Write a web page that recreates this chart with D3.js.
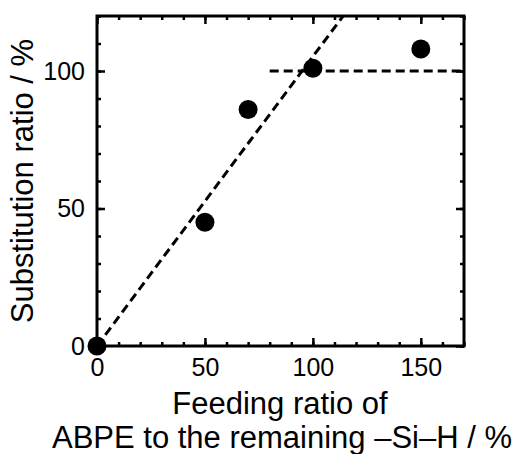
<!DOCTYPE html>
<html>
<head>
<meta charset="utf-8">
<script src="https://cdn.jsdelivr.net/npm/d3@7"></script>
<style>
  body { margin: 0; background: #fff; }
  svg { display: block; }
  .axis text { font-family: "Liberation Sans", Arial, sans-serif; font-size: 25px; fill: #000; }
  .axis line { stroke: #000; stroke-width: 2.5; }
  .axis path.domain { display: none; }
  .title { font-family: "Liberation Sans", Arial, sans-serif; font-size: 31px; fill: #000; }
</style>
</head>
<body>
<div id="chart"></div>
<script>
// measured points
const feedRatio = [0, 50, 70, 100, 150];
const substRatio = [0, 45, 86, 101, 108];

// guide lines (dashed)
const slopeX = [0, 114];
const slopeY = [0, 120];
const plateauX = [80, 170];
const plateauY = [100, 100];

// ticks
const xTicks = [0, 50, 100, 150];
const yTicks = [0, 50, 100];
const xMinor = d3.range(0, 171, 10);
const yMinor = d3.range(0, 121, 10);

const containerWidth = 518, containerHeight = 454;
const margin = {top: 16, right: 54, bottom: 108, left: 97};
const width = containerWidth - margin.left - margin.right;
const height = containerHeight - margin.top - margin.bottom;

const svg = d3.select('#chart').append('svg')
    .attr('width', containerWidth)
    .attr('height', containerHeight);

const chart = svg.append('g')
    .attr('transform', `translate(${margin.left},${margin.top})`);

const xScale = d3.scaleLinear().domain([0, 170]).range([0, width]);
const yScale = d3.scaleLinear().domain([0, 120]).range([height, 0]);

// minor ticks on all four sides (inward)
const minorTick = 4, majorTick = 8;
chart.append('g').attr('class', 'axis')
    .attr('transform', `translate(0,${height})`)
    .call(d3.axisBottom(xScale).tickValues(xMinor).tickFormat('').tickSize(-minorTick));
chart.append('g').attr('class', 'axis')
    .call(d3.axisTop(xScale).tickValues(xMinor).tickFormat('').tickSize(-minorTick));
chart.append('g').attr('class', 'axis')
    .call(d3.axisLeft(yScale).tickValues(yMinor).tickFormat('').tickSize(-minorTick));
chart.append('g').attr('class', 'axis')
    .attr('transform', `translate(${width},0)`)
    .call(d3.axisRight(yScale).tickValues(yMinor).tickFormat('').tickSize(-minorTick));

// major ticks with labels
chart.append('g').attr('class', 'axis')
    .attr('transform', `translate(0,${height})`)
    .call(d3.axisBottom(xScale).tickValues(xTicks).tickSize(-majorTick).tickPadding(12));
chart.append('g').attr('class', 'axis')
    .call(d3.axisLeft(yScale).tickValues(yTicks).tickSize(-majorTick).tickPadding(12));
chart.append('g').attr('class', 'axis')
    .call(d3.axisTop(xScale).tickValues(xTicks).tickFormat('').tickSize(-majorTick));
chart.append('g').attr('class', 'axis')
    .attr('transform', `translate(${width},0)`)
    .call(d3.axisRight(yScale).tickValues(yTicks).tickFormat('').tickSize(-majorTick));

// frame
chart.append('rect')
    .attr('width', width)
    .attr('height', height)
    .attr('fill', 'none')
    .attr('stroke', '#000')
    .attr('stroke-width', 3);

// dashed guide lines, clipped to the plot
chart.append('clipPath').attr('id', 'plot-clip')
  .append('rect').attr('width', width).attr('height', height);

const line = d3.line().x(d => xScale(d[0])).y(d => yScale(d[1]));
const guides = [d3.zip(slopeX, slopeY), d3.zip(plateauX, plateauY)];

chart.append('g').attr('clip-path', 'url(#plot-clip)')
  .selectAll('path')
    .data(guides)
  .join('path')
    .attr('d', line)
    .attr('fill', 'none')
    .attr('stroke', '#000')
    .attr('stroke-width', 3)
    .attr('stroke-dasharray', '9,5');

// points
chart.selectAll('.dot')
    .data(d3.zip(feedRatio, substRatio))
  .join('circle')
    .attr('class', 'dot')
    .attr('cx', d => xScale(d[0]))
    .attr('cy', d => yScale(d[1]))
    .attr('r', 9.5)
    .attr('fill', '#000');

// axis titles
svg.append('text')
    .attr('class', 'title')
    .attr('text-anchor', 'middle')
    .attr('transform', `translate(33,${margin.top + height / 2}) rotate(-90)`)
    .text('Substitution ratio / %');

// two separate lines so they don't collide
svg.append('text')
    .attr('class', 'title')
    .attr('text-anchor', 'middle')
    .attr('x', 280).attr('y', 414)
    .text('Feeding ratio of');
svg.append('text')
    .attr('class', 'title')
    .attr('text-anchor', 'middle')
    .attr('x', 282).attr('y', 448)
    .text('ABPE to the remaining \u2013Si\u2013H / %');
</script>
</body>
</html>
